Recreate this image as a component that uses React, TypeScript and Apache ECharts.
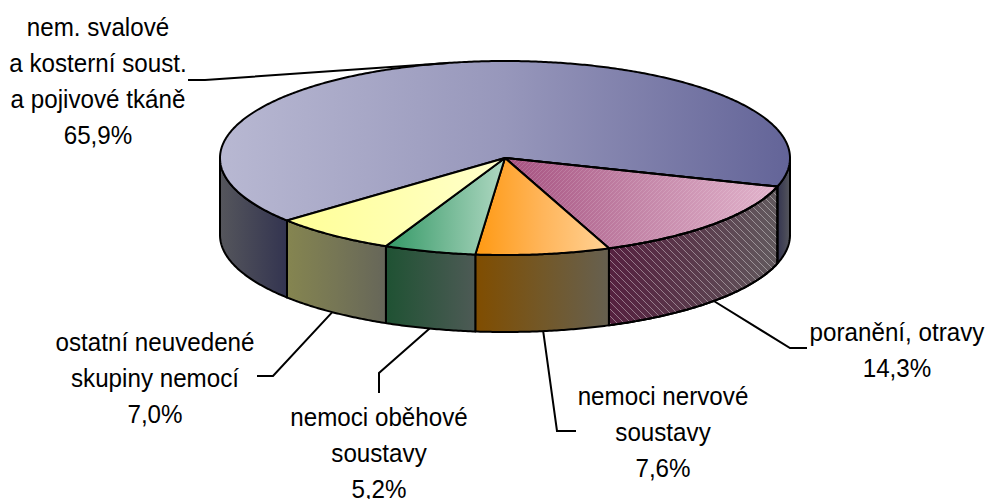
import React, { useEffect, useRef } from "react";
import * as echarts from "echarts";

const categories = [
  "nem. svalové\na kosterní soust.\na pojivové tkáně",
  "poranění, otravy",
  "nemoci nervové\nsoustavy",
  "nemoci oběhové\nsoustavy",
  "ostatní neuvedené\nskupiny nemocí",
];
const values = [65.9, 14.3, 7.6, 5.2, 7.0];
const valueLabels = ["65,9%", "14,3%", "7,6%", "5,2%", "7,0%"];

const topColors = [
  ["#B8B8D2", "#9797BB", "#636498"],
  ["#A5507F", "#C486A8", "#E2B4CC"],
  ["#FF9912", "#FFB55A", "#FFD296"],
  ["#339966", "#72B894", "#AFD8C2"],
  ["#FFFF96", "#FFFFB0", "#FFFFCC"],
];
const sideColors = [
  ["#55565C", "#444556", "#333450"],
  ["#55203F", "#5A3A4C", "#625A5E"],
  ["#804D00", "#735828", "#666050"],
  ["#1F5233", "#365644", "#4D5A55"],
  ["#858550", "#767655", "#666659"],
];

// layout of the drawing
const CX = 505, CY = 158, RX = 285, RY = 97, DEPTH = 77;
const FIRST_ANGLE = 139.9; // where the first slice starts, degrees clockwise from east
const labelPos = [
  { x: 98, y: 81 },
  { x: 897, y: 349.5 },
  { x: 663, y: 431.5 },
  { x: 379, y: 452.5 },
  { x: 155, y: 377.5 },
];
const elbows = [
  [[205, 80], [188, 80]],
  [[790, 348], [807, 348]],
  [[557, 431], [576, 431]],
  [[379, 373], [379, 393]],
  [[273, 376], [257, 376]],
];
const FONT = '24.2px "Liberation Sans", Arial, sans-serif';
const TEXT_STRETCH = 1.1;

const rad = (d: number) => (d * Math.PI) / 180;
const pt = (a: number, dy = 0) => [
  CX + RX * Math.cos(rad(a)),
  CY + RY * Math.sin(rad(a)) + dy,
];
const arc = (a0: number, a1: number, dy = 0) => {
  const n = Math.max(2, Math.ceil(Math.abs(a1 - a0) * 2));
  const out: number[][] = [];
  for (let i = 0; i <= n; i++) out.push(pt(a0 + ((a1 - a0) * i) / n, dy));
  return out;
};
const grad = (c: string[]) => ({
  type: "linear", x: 0, y: 0, x2: 1, y2: 0,
  colorStops: c.map((color, i) => ({ offset: i / (c.length - 1), color })),
});

function hatch(dir: number, color: string, size: number) {
  const c = document.createElement("canvas");
  c.width = size; c.height = size;
  const g = c.getContext("2d")!;
  g.fillStyle = color;
  for (let i = 0; i < size; i++) {
    g.fillRect(i, dir > 0 ? size - 1 - i : i, 1, 1);
  }
  return { image: c, repeat: "repeat", imageWidth: size, imageHeight: size };
}

export default function App() {
  const ref = useRef<HTMLDivElement>(null);
  useEffect(() => {
    document.body.style.margin = "0";
    const chart = echarts.init(ref.current!, undefined, { renderer: "svg" });
    const total = values.reduce((a, b) => a + b, 0);
    const starts: number[] = [];
    let acc = FIRST_ANGLE;
    values.forEach((v) => { starts.push(acc); acc += (v / total) * 360; });

    const stroke = { stroke: "#000", lineWidth: 2, lineJoin: "round" };
    const hatched = 1;
    const topHatch = hatch(1, "rgba(255,255,255,0.14)", 4);
    const sideHatch = hatch(-1, "rgba(255,255,255,0.38)", 7);

    const renderItem = (params: any, api: any) => {
      const i = params.dataIndex;
      const a0 = starts[i];
      const a1 = a0 + (api.value(0) / total) * 360;
      const kids: any[] = [];
      // visible (front) part of the wall: angles between 0 and 180 (mod 360)
      const spans: number[][] = [];
      for (const off of [0, 360]) {
        const s = Math.max(a0, off);
        const e = Math.min(a1, off + 180);
        if (e > s) spans.push([s, e]);
      }
      spans.forEach(([s, e], k) => {
        const pts = [...arc(s, e), ...arc(e, s, DEPTH)];
        const colors = i === 0 && k === 1 ? [...sideColors[i]].reverse() : sideColors[i];
        kids.push({ type: "polygon", shape: { points: pts }, style: { fill: grad(colors), ...stroke } });
        if (i === hatched) {
          kids.push({ type: "polygon", shape: { points: pts }, style: { fill: sideHatch, stroke: null } });
          kids.push({ type: "polygon", shape: { points: pts }, style: { fill: "none", ...stroke } });
        }
      });
      const top = [[CX, CY], ...arc(a0, a1)];
      kids.push({ type: "polygon", shape: { points: top }, style: { fill: grad(topColors[i]), ...stroke } });
      if (i === hatched) {
        kids.push({ type: "polygon", shape: { points: top }, style: { fill: topHatch, stroke: null } });
        kids.push({ type: "polygon", shape: { points: top }, style: { fill: "none", ...stroke } });
      }
      // leader line from the middle of the slice's rim
      const mid = (a0 + a1) / 2;
      const visibleFront = ((mid % 360) + 360) % 360 < 180;
      const anchor = pt(mid, visibleFront ? DEPTH : 0);
      kids.push({
        type: "polyline",
        shape: { points: [anchor, ...elbows[i]] },
        style: { fill: "none", stroke: "#000", lineWidth: 2 },
      });
      kids.push({
        type: "text",
        x: labelPos[i].x,
        y: labelPos[i].y,
        scaleY: TEXT_STRETCH,
        style: {
          text: `${categories[i]}\n${valueLabels[i]}`,
          x: 0, y: 0,
          font: FONT, fill: "#000",
          align: "center", verticalAlign: "middle", lineHeight: 36 / TEXT_STRETCH,
        },
      });
      return { type: "group", children: kids };
    };

    chart.setOption({
      animation: false,
      backgroundColor: "#fff",
      series: [{
        type: "custom",
        coordinateSystem: "none",
        renderItem,
        data: values.map((v) => [v]),
        silent: true,
      }],
    });
    return () => chart.dispose();
  }, []);
  return <div ref={ref} style={{ width: 986, height: 499 }} />;
}
